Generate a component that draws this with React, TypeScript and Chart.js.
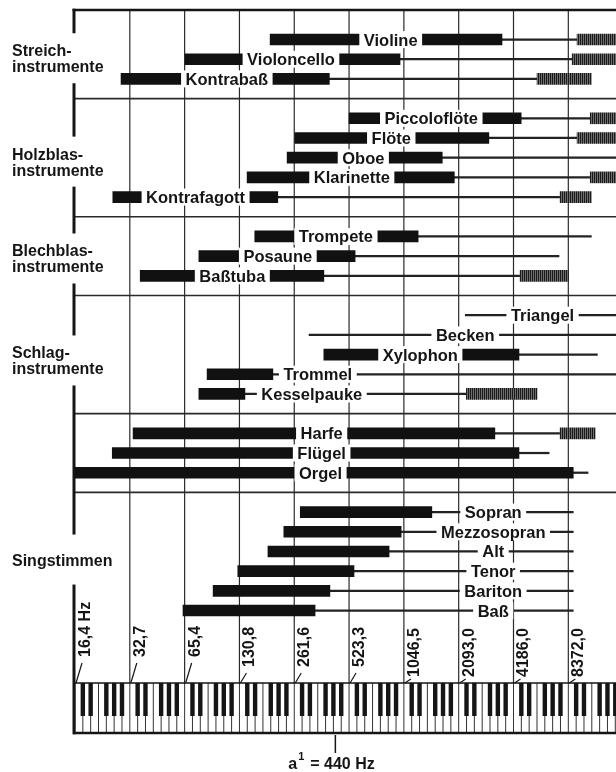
import React, { useEffect, useRef } from "react";
import { Chart, registerables } from "chart.js";
Chart.register(...registerables);

// x values are octaves above 16,4 Hz (C0)
const instruments = ["Violine", "Violoncello", "Kontrabaß", "Piccoloflöte", "Flöte", "Oboe", "Klarinette", "Kontrafagott", "Trompete", "Posaune", "Baßtuba", "Triangel", "Becken", "Xylophon", "Trommel", "Kesselpauke", "Harfe", "Flügel", "Orgel", "Sopran", "Mezzosopran", "Alt", "Tenor", "Bariton", "Baß"];
const rowSlot = [0, 1, 2, 4, 5, 6, 7, 8, 10, 11, 12, 14, 15, 16, 17, 18, 20, 21, 22, 24, 25, 26, 27, 28, 29];
const mainFrom = [3.56, 2.01, 0.84, 5.0, 4.01, 3.87, 3.14, 0.69, 3.28, 2.26, 1.19, null, null, 4.54, 2.41, 2.26, 1.06, 0.68, 0.0, 4.11, 3.81, 3.52, 2.97, 2.52, 1.97];
const mainTo = [7.79, 5.93, 4.64, 8.14, 7.55, 6.7, 6.92, 3.7, 6.26, 5.11, 4.54, null, null, 8.1, 3.61, 3.1, 7.66, 8.1, 9.09, 6.51, 5.95, 5.73, 5.09, 4.65, 4.38];
const lineFrom = [7.79, 5.93, 4.64, 8.14, 7.55, 6.7, 6.92, 3.7, 6.26, 5.11, 4.54, 7.12, 4.27, 8.1, 3.61, 3.1, 7.66, 8.1, 9.09, 6.51, 5.95, 5.73, 5.09, 4.65, 4.38];
const lineTo = [9.16, 9.07, 8.43, 9.4, 9.16, 9.95, 9.4, 8.85, 9.42, 8.83, 8.12, 9.95, 9.95, 9.53, 9.95, 7.14, 8.85, 8.65, 9.36, 9.09, 9.09, 9.09, 9.09, 9.09, 9.09];
const overtoneTo = [9.95, 9.95, 9.42, 9.95, 9.95, null, 9.95, 9.42, null, null, 9.0, null, null, null, null, 8.43, 9.49, null, null, null, null, null, null, null, null];
const labelAt = [5.76, 3.94, 2.77, 6.5, 5.77, 5.26, 5.05, 2.2, 4.76, 3.7, 2.87, 8.53, 7.12, 6.3, 4.43, 4.32, 4.5, 4.5, 4.48, 7.63, 7.63, 7.63, 7.63, 7.63, 7.63];

const groupNames = [["Streich-", "instrumente"], ["Holzblas-", "instrumente"], ["Blechblas-", "instrumente"], ["Schlag-", "instrumente"], ["Singstimmen"]];
const groupCenter = [0.95, 6.2, 11.12, 16.3, 26.41];
const separatorSlots = [3, 9, 13, 19, 23];
const tickLabels = ["16,4 Hz", "32,7", "65,4", "130,8", "261,6", "523,3", "1046,5", "2093,0", "4186,0", "8372,0"];
const BASE_HZ = 16.35;
const A1_HZ = 440;

const FONT = '"Liberation Sans", Arial, Helvetica, sans-serif';

function seg(ctx: CanvasRenderingContext2D, x1: number, y1: number, x2: number, y2: number) {
  ctx.beginPath();
  ctx.moveTo(x1, y1);
  ctx.lineTo(x2, y2);
  ctx.stroke();
}

const overlayPlugin = {
  id: "overlay",
  beforeDatasetsDraw(chart: any) {
    const { ctx, chartArea: ca, scales } = chart;
    const x = scales.x, y = scales.y;
    const ink = "#151515";
    ctx.save();
    // vertical octave lines
    ctx.strokeStyle = "#2a2a2a";
    ctx.lineWidth = 1.2;
    for (let i = 1; i < tickLabels.length; i++) {
      const px = x.getPixelForValue(i);
      seg(ctx, px, ca.top, px, ca.bottom);
    }
    // group separators
    ctx.lineWidth = 1.6;
    separatorSlots.forEach((s) => {
      const py = y.getPixelForValue(s);
      seg(ctx, ca.left, py, ca.right, py);
    });
    // top frame
    ctx.strokeStyle = ink;
    ctx.lineWidth = 2.6;
    seg(ctx, ca.left - 2.5, ca.top, ca.right, ca.top);

    // keyboard
    const kbTop = ca.bottom;
    const kbBottom = ca.bottom + 50;
    const x0 = x.getPixelForValue(0);
    ctx.fillStyle = "#fff";
    ctx.fillRect(x0, kbTop, ca.right - x0, kbBottom - kbTop);
    ctx.strokeStyle = "#333";
    ctx.lineWidth = 1;
    for (let o = 0; o < 10; o++) {
      for (let k = 0; k < 7; k++) {
        const px = x.getPixelForValue(o + k / 7);
        if (px > ca.right) break;
        seg(ctx, px, kbTop, px, kbBottom);
      }
    }
    ctx.fillStyle = ink;
    for (let o = 0; o < 10; o++) {
      [1, 2, 4, 5, 6].forEach((k) => {
        const px = x.getPixelForValue(o + k / 7);
        if (px < ca.right + 3) ctx.fillRect(px - 2.2, kbTop, 4.4, 33);
      });
    }
    ctx.strokeStyle = ink;
    ctx.lineWidth = 1.4;
    seg(ctx, x0, kbTop, ca.right, kbTop);
    ctx.lineWidth = 2.6;
    seg(ctx, x0 - 2, kbBottom, ca.right, kbBottom);

    // left frame with gaps for group names
    const fx = x0 - 1;
    ctx.lineWidth = 3;
    let start = ca.top - 1.3;
    groupCenter.forEach((g) => {
      const cy = y.getPixelForValue(g);
      seg(ctx, fx, start, fx, cy - 25);
      start = cy + 25;
    });
    seg(ctx, fx, start, fx, kbBottom + 1.3);

    // group names
    ctx.fillStyle = ink;
    ctx.font = `bold 16px ${FONT}`;
    ctx.textAlign = "left";
    ctx.textBaseline = "alphabetic";
    groupNames.forEach((lines, i) => {
      const cy = y.getPixelForValue(groupCenter[i]);
      if (lines.length === 1) ctx.fillText(lines[0], 12, cy + 6);
      else {
        ctx.fillText(lines[0], 12, cy - 2);
        ctx.fillText(lines[1], 12, cy + 14);
      }
    });

    // frequency tick labels (rotated) and diagonal ticks
    ctx.font = `bold 16px ${FONT}`;
    tickLabels.forEach((lab, i) => {
      const gx = x.getPixelForValue(i);
      const n = lab.replace(" Hz", "").length;
      const bottom = kbTop - 26 + 10 * Math.min(Math.max(n - 4, 0), 2);
      const tickTop = Math.min(bottom + 6, kbTop - 4);
      ctx.lineWidth = 1.2;
      ctx.strokeStyle = ink;
      seg(ctx, gx + 1, kbTop, gx + 7, tickTop);
      ctx.save();
      ctx.translate(gx + 10.5, bottom);
      ctx.rotate(-Math.PI / 2);
      ctx.textBaseline = "middle";
      ctx.textAlign = "left";
      ctx.fillText(lab, 0, 0);
      ctx.restore();
    });

    // a1 = 440 Hz
    const ax = x.getPixelForValue(Math.log2(A1_HZ / BASE_HZ));
    ctx.lineWidth = 1.5;
    seg(ctx, ax, kbBottom + 2, ax, kbBottom + 20);
    ctx.font = `bold 16px ${FONT}`;
    ctx.textBaseline = "alphabetic";
    const cx = ax - 47;
    ctx.fillText("a", cx, kbBottom + 36);
    const aw = ctx.measureText("a").width;
    ctx.font = `bold 11px ${FONT}`;
    ctx.fillText("1", cx + aw + 1, kbBottom + 27);
    ctx.font = `bold 16px ${FONT}`;
    ctx.fillText("= 440 Hz", cx + aw + 13, kbBottom + 36);
    ctx.restore();
  },
  afterDatasetsDraw(chart: any) {
    const { ctx, scales } = chart;
    const x = scales.x, y = scales.y;
    ctx.save();
    ctx.font = `bold 16.5px ${FONT}`;
    ctx.textAlign = "center";
    ctx.textBaseline = "alphabetic";
    instruments.forEach((name, i) => {
      const cx = x.getPixelForValue(labelAt[i]);
      const cy = y.getPixelForValue(rowSlot[i]);
      const w = ctx.measureText(name).width;
      ctx.fillStyle = "#fff";
      ctx.fillRect(cx - w / 2 - 4.5, cy - 8.5, w + 9, 17);
      ctx.fillStyle = "#151515";
      ctx.fillText(name, cx, cy + 6);
    });
    ctx.restore();
  },
};

export default function App() {
  const ref = useRef<HTMLCanvasElement | null>(null);
  useEffect(() => {
    document.body.style.margin = "0";
    const canvas = ref.current;
    if (!canvas) return;
    const pc = document.createElement("canvas");
    pc.width = 2;
    pc.height = 1;
    const pctx = pc.getContext("2d")!;
    pctx.fillStyle = "#1a1a1a";
    pctx.fillRect(0, 0, 1, 1);
    pctx.fillStyle = "#6e6e6e";
    pctx.fillRect(1, 0, 1, 1);
    const pattern = canvas.getContext("2d")!.createPattern(pc, "repeat");

    const mainData: any[] = [];
    const lineData: any[] = [];
    const overData: any[] = [];
    instruments.forEach((_, i) => {
      if (mainFrom[i] !== null && mainTo[i] !== null) mainData.push({ y: rowSlot[i], x: [mainFrom[i], mainTo[i]] });
      lineData.push({ y: rowSlot[i], x: [lineFrom[i], lineTo[i]] });
      if (overtoneTo[i] !== null) overData.push({ y: rowSlot[i], x: [lineTo[i], overtoneTo[i]] });
    });

    const chart = new Chart(canvas, {
      type: "bar",
      data: {
        datasets: [
          { label: "Grundtonbereich", data: mainData, backgroundColor: "#111", barThickness: 11, grouped: false, borderWidth: 0 } as any,
          { label: "Obertöne", data: overData, backgroundColor: pattern as any, barThickness: 11, grouped: false, borderWidth: 0 } as any,
          { label: "Geräuschanteil", data: lineData, backgroundColor: "#222", barThickness: 1.6, grouped: false, borderWidth: 0 } as any,
        ],
      },
      options: {
        indexAxis: "y",
        responsive: false,
        animation: false,
        devicePixelRatio: 1,
        events: [],
        layout: { padding: { left: 75, right: 0, top: 10, bottom: 89 } },
        plugins: { legend: { display: false }, tooltip: { enabled: false }, title: { display: false } },
        scales: {
          x: { type: "linear", min: 0, max: 9.87, display: false, offset: false },
          y: { type: "linear", min: -1.5, max: 32.68, reverse: true, display: false, offset: false },
        },
      },
      plugins: [overlayPlugin],
    });
    return () => chart.destroy();
  }, []);
  return (
    <div style={{ width: 616, height: 772, background: "#fff" }}>
      <canvas ref={ref} width={616} height={772} style={{ display: "block" }} />
    </div>
  );
}
